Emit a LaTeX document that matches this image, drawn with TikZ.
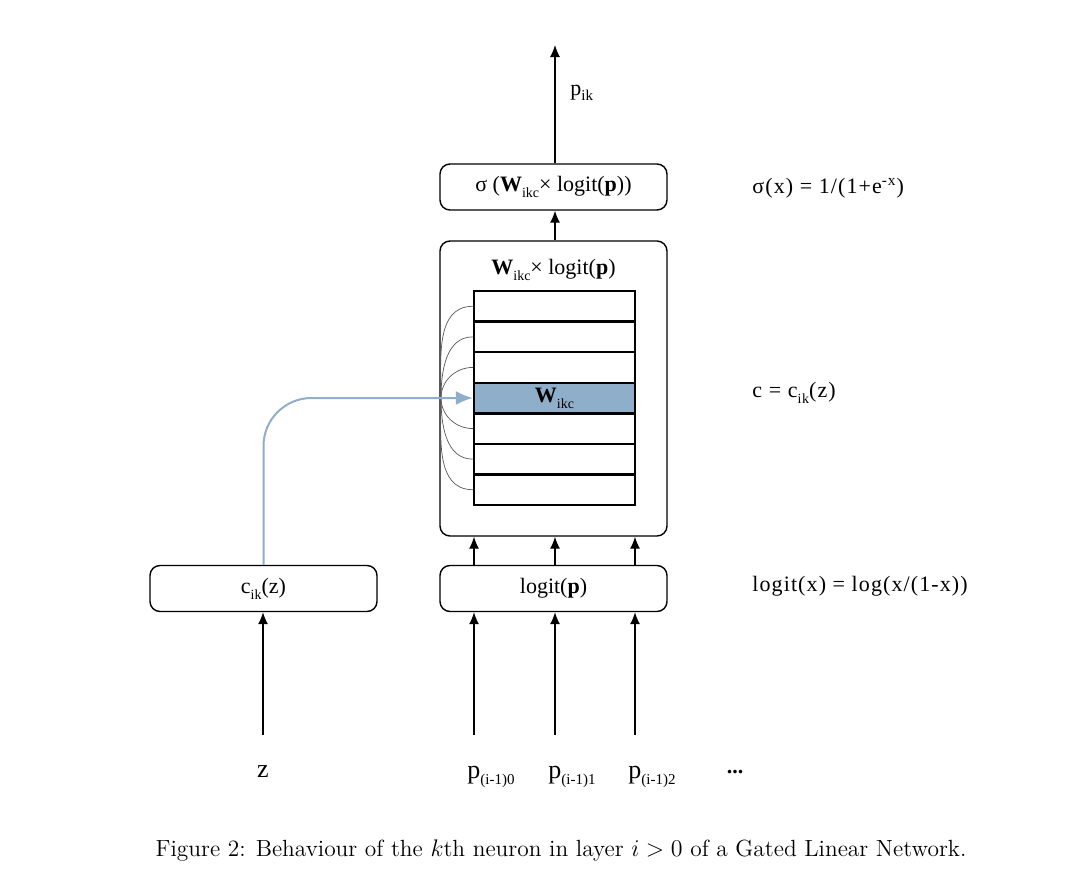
\documentclass[tikz,border=0pt]{standalone}
\usepackage{fontspec}
\usetikzlibrary{arrows.meta}

\newfontfamily\diafont{Liberation Serif}
\newfontfamily\formfont[LetterSpace=5]{Liberation Serif}
\definecolor{gateblue}{RGB}{143,174,202}

\newcommand*{\low}[1]{\raisebox{-0.6ex}{\scriptsize #1}}
\newcommand*{\lowt}[1]{\raisebox{-0.55ex}{\fontsize{7.5}{8}\selectfont #1}}
\newcommand*{\rowh}{30.57}
\newcommand*{\rowtop}{291}

\tikzset{
	box/.style={draw, rounded corners=5pt, line width=0.7pt, fill=white,
		minimum width=113.5pt, minimum height=23pt, inner sep=0pt},
	cell/.style={draw, line width=1.2pt, minimum width=80.5pt,
		minimum height=15.3pt, inner sep=0pt},
	arr/.style={-{Latex[length=6pt,width=5pt]}, line width=0.6pt},
	fanline/.style={black!65, line width=0.35pt},
	gate/.style={gateblue, line width=1pt, rounded corners=24pt,
		-{Latex[length=8.5pt,width=7pt]}},
	lbl/.style={font=\diafont\fontsize{11}{13}\selectfont, inner sep=1pt},
	inlbl/.style={font=\diafont\fontsize{13}{15}\selectfont},
	form/.style={font=\formfont\fontsize{11}{13}\selectfont, anchor=west}
}

\begin{document}
\begin{tikzpicture}[x=0.5pt, y=-0.5pt, every node/.append style={lbl}]

	\useasboundingbox (0,0) rectangle (1076,894);

	% boxes
	\node[box] (sigma) at (553.5,187) {σ (\textbf{W}\low{ikc}× logit(\textbf{p}))};
	\node[box, minimum height=147.5pt] (wbox) at (553.5,388.5) {};
	\node (wtitle) at (553.5,270) {\textbf{W}\low{ikc}× logit(\textbf{p})};
	\node[box] (logit) at (553.5,588.5) {logit(\textbf{p})};
	\node[box] (cbox) at (263.5,588.5) {c\low{ik}(z)};

	% weight table
	\foreach \i in {1,...,7} {
		\node[cell] (row\i) at (554.5,{\rowtop+(\i-0.5)*\rowh}) {};
	}
	\node[cell, fill=gateblue] (row4) at (554.5,{\rowtop+3.5*\rowh}) {\textbf{W}\low{ikc}};

	% selection fan
	\coordinate (fan) at (441,398);
	\foreach \i in {1,2,3} \draw[fanline] (fan) to[out=90,in=180] (row\i.west);
	\foreach \i in {5,6,7} \draw[fanline] (fan) to[out=-90,in=180] (row\i.west);

	% context function feeds the table
	\draw[gate] (cbox.north) |- (row4.west);

	% inputs
	\coordinate (zin) at (263,735);
	\node[inlbl] (z) at (263,772) {z};
	\draw[arr] (zin) -- (cbox.south -| zin);

	\foreach \i/\x in {0/474,1/555,2/635} {
		\coordinate (in\i) at (\x,735);
		\node[inlbl, anchor=base west] (p\i) at (\x-9,778) {p\lowt{(i-1)\i}};
		\draw[arr] (in\i) -- (logit.south -| in\i);
		\draw[arr] (logit.north -| in\i) -- (wbox.south -| in\i);
	}
	\node (dots) at (735,772) {\textbf{...}};

	% output
	\coordinate (pout) at (555,45);
	\draw[arr] (wbox.north -| pout) -- (sigma.south -| pout);
	\draw[arr] (sigma.north -| pout) -- (pout);
	\node[anchor=base west] (pik) at (568,95) {p\lowt{ik}};

	% formulas
	\node[form] (fsig) at (750,188) {σ(x) = 1/(1+e\textsuperscript{-x})};
	\node[form] (fc) at (750,393) {c = c\low{ik}(z)};
	\node[form] (flog) at (750,586) {logit(x) = log(x/(1-x))};

	% caption
	\node[font=\normalfont\fontsize{11.7}{14}\selectfont] (cap) at (561,851)
		{Figure 2: Behaviour of the $k$th neuron in layer $i>0$ of a Gated Linear Network.};

\end{tikzpicture}
\end{document}
